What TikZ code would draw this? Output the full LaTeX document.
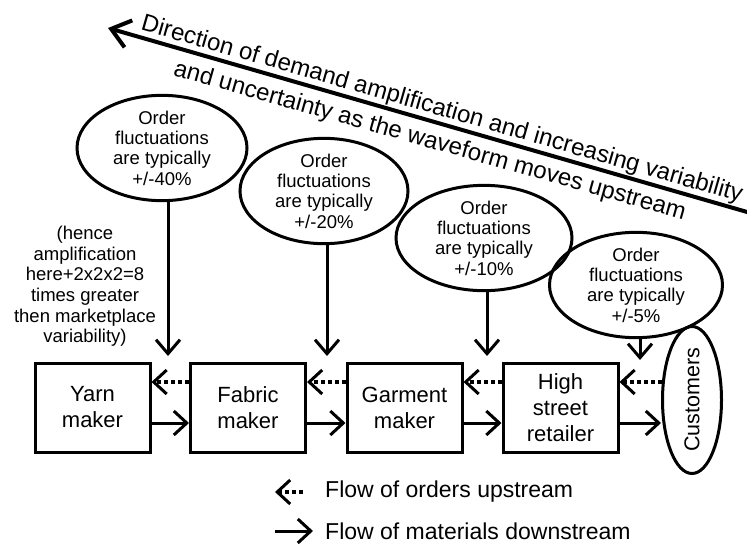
\documentclass[tikz,border=0pt]{standalone}
\usepackage{fontspec}
\setmainfont{Liberation Sans}
\usetikzlibrary{arrows.meta,shapes.geometric}
\begin{document}
\begin{tikzpicture}[x=1pt,y=-1pt,
  bubble/.style={ellipse,draw,line width=3pt,inner sep=0pt,minimum width=170pt,minimum height=92pt,align=center,font=\fontsize{18.5}{20.3}\selectfont},
  firm/.style={rectangle,draw,line width=3pt,minimum width=115pt,minimum height=89pt,inner sep=0pt,align=center,font=\fontsize{22}{26}\selectfont},
  matflow/.style={line width=3pt,-{Straight Barb[length=13pt,width=24pt]}},
  ordflow/.style={line width=4pt,dash pattern=on 4pt off 3pt,-{Straight Barb[length=13pt,width=24pt,line width=3pt]}},
  downflow/.style={line width=3pt,-{Straight Barb[length=14pt,width=24pt]}},
  bigarrow/.style={line width=4pt,-{Straight Barb[length=18pt,width=28pt]}},
  bigtext/.style={inner sep=0pt,font=\fontsize{24}{28}\selectfont},
  note/.style={inner sep=0pt,align=center,font=\fontsize{18.5}{20.6}\selectfont},
  legtext/.style={inner sep=0pt,anchor=west,font=\fontsize{23}{27}\selectfont}
]
\useasboundingbox (0,0) rectangle (747,549);
\fill[white] (0,0) rectangle (747,549);

% big direction arrow
\coordinate (bigs) at (760,215.7);
\coordinate (bigt) at (108,28);
\draw[bigarrow] (bigs) -- (bigt);
\node[bigtext,rotate=-16.04,anchor=base] (dir1) at (440.2,115.8) {Direction of demand amplification and increasing variability};
\node[bigtext,rotate=-15.8,anchor=base] (dir2) at (428,147.5) {and uncertainty as the waveform moves upstream};

% bubbles
\node[bubble,minimum width=170pt,minimum height=93pt] (e1) at (162,148) {Order\\fluctuations\\are typically\\+/-40\%};
\node[bubble,minimum width=168pt,minimum height=92pt] (e2) at (324,191) {Order\\fluctuations\\are typically\\+/-20\%};
\node[bubble,minimum width=176pt,minimum height=90pt] (e3) at (484,238) {Order\\fluctuations\\are typically\\+/-10\%};
\node[bubble,minimum width=173pt,minimum height=90pt] (e4) at (636,285) {Order\\fluctuations\\are typically\\+/-5\%};

\node[note] (amp) at (85,286.5) {(hence\\amplification\\here+2x2x2=8\\times greater\\then marketplace\\variability)};

% firms
\node[firm] (yarn) at (92.5,407.5) {Yarn\\maker};
\node[firm] (fab) at (248,407.5) {Fabric\\maker};
\node[firm] (gar) at (404.5,407.5) {Garment\\maker};
\node[firm] (ret) at (560.5,407.5) {High\\street\\retailer};
\node[ellipse,draw,line width=3pt,inner sep=0pt,rotate=90,minimum width=146pt,minimum height=59pt,font=\fontsize{21.5}{25}\selectfont] (cust) at (692,400) {Customers};

% vertical arrows
\coordinate (t1) at (168,356);
\coordinate (t2) at (327,356);
\coordinate (t3) at (487,356);
\coordinate (t4) at (640,360);
\draw[downflow] (e1.south -| t1) -- (t1);
\draw[downflow] (e2.south -| t2) -- (t2);
\draw[downflow] (e3.south -| t3) -- (t3);
\draw[downflow] (e4.south -| t4) -- (t4);

% flows
\coordinate (oy) at (0,382);
\coordinate (my) at (0,423);
\draw[ordflow] (fab.west |- oy) -- (yarn.east |- oy);
\draw[ordflow] (gar.west |- oy) -- (fab.east |- oy);
\draw[ordflow] (ret.west |- oy) -- (gar.east |- oy);
\draw[ordflow] (cust.north |- oy) ++(1,0) coordinate (cs) (cs) -- (ret.east |- oy);
\draw[matflow] (yarn.east |- my) -- (fab.west |- my);
\draw[matflow] (fab.east |- my) -- (gar.west |- my);
\draw[matflow] (gar.east |- my) -- (ret.west |- my);
\draw[matflow] (ret.east |- my) -- (cust.north |- my);

% legend
\node[legtext] (lt1) at (325,492) {Flow of orders upstream};
\node[legtext] (lt2) at (325,531) {Flow of materials downstream};
\coordinate (lo1) at (303,492);
\coordinate (lo2) at (275,492);
\coordinate (lm1) at (275,531);
\coordinate (lm2) at (313,531);
\draw[ordflow] (lo1) -- (lo2);
\draw[matflow] (lm1) -- (lm2);
\end{tikzpicture}
\end{document}
